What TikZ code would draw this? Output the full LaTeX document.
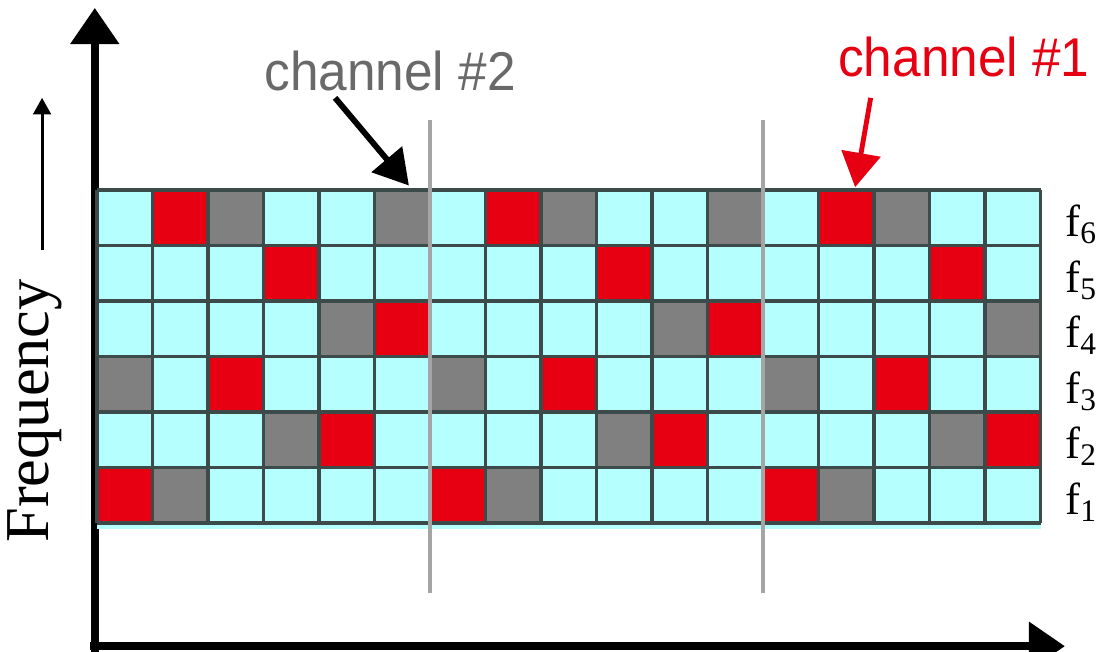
\documentclass[tikz,border=0pt]{standalone}
\usepackage{fontspec}
\setmainfont{Liberation Serif}
\newfontfamily\chfont{Liberation Sans}
\usetikzlibrary{arrows.meta}
\definecolor{slotcyan}{RGB}{181,255,255}
\definecolor{slotred}{RGB}{230,0,18}
\definecolor{slotgray}{RGB}{128,128,128}
\definecolor{gridline}{RGB}{60,74,74}
\definecolor{marker}{RGB}{165,165,165}
\definecolor{chgray}{RGB}{105,105,105}
\begin{document}
\begin{tikzpicture}[line join=miter,
  axis/.style={line width=4pt,-{Triangle[length=0.65cm,width=0.85cm]}},
  pointer/.style={line width=3pt,-{Triangle[length=0.62cm,width=0.7cm]}},
  period/.style={draw=marker,line width=2pt},
  chlabel/.style={font=\chfont\fontsize{28}{30}\selectfont,anchor=base,inner sep=0pt,xscale=0.94},
  freqlabel/.style={font=\fontsize{23}{25}\selectfont,anchor=base west,inner sep=0pt}]
\useasboundingbox (-1.748,-2.324) rectangle (18.162,9.423);

% axes
\coordinate (origin) at (-0.04,-2.22);
\coordinate (ytip) at (-0.04,9.28);
\coordinate (xtip) at (17.44,-2.22);
\draw[axis] (-0.04,-2.4) -- (ytip);
\draw[axis] (-0.12,-2.22) -- (xtip);

% frequency label with its small arrow
\coordinate (fqfoot) at (-0.99,4.92);
\coordinate (fqtip) at (-0.99,7.66);
\draw[line width=1.5pt,-{Triangle[length=0.3cm,width=0.32cm]}] (fqfoot) -- (fqtip);
\node[rotate=90,font=\fontsize{32}{34}\selectfont] (freq) at (-1.12,2.02) {Frequency};

% time slots, one frame = 6 columns
\fill[slotcyan] (0,-0.1) rectangle (17,6);
\begin{scope}
\clip (0,0) rectangle (17,6);
\foreach \p in {0,6,12} {
  \foreach \k/\r in {0/0,4/1,2/2,5/3,3/4,1/5}
    \fill[slotred] (\p+\k,\r) rectangle ++(1,1);
  \foreach \k/\r in {1/0,3/1,0/2,4/3,2/5,5/5}
    \fill[slotgray] (\p+\k,\r) rectangle ++(1,1);
}
\end{scope}
\draw[gridline,line width=2pt] (0,0) grid (17,6);

% frame borders
\draw[period] (6,-1.26) -- (6,7.26);
\draw[period] (12,-1.26) -- (12,7.26);

% carrier labels
\foreach \r in {1,...,6}
  \node[freqlabel] (f\r) at (17.44,\r-0.84) {f\textsubscript{\r}};

% channel labels
\node[chlabel,text=chgray] (ch2) at (5.28,7.80) {channel \#2};
\node[chlabel,text=slotred] (ch1) at (15.62,8.04) {channel \#1};
\coordinate (ch2tail) at (4.29,7.66);
\coordinate (ch2tip) at (5.62,6.08);
\coordinate (ch1tail) at (13.94,7.66);
\coordinate (ch1tip) at (13.66,6.05);
\draw[pointer] (ch2tail) -- (ch2tip);
\draw[pointer,draw=slotred,fill=slotred,line width=2.5pt] (ch1tail) -- (ch1tip);
\end{tikzpicture}
\end{document}
